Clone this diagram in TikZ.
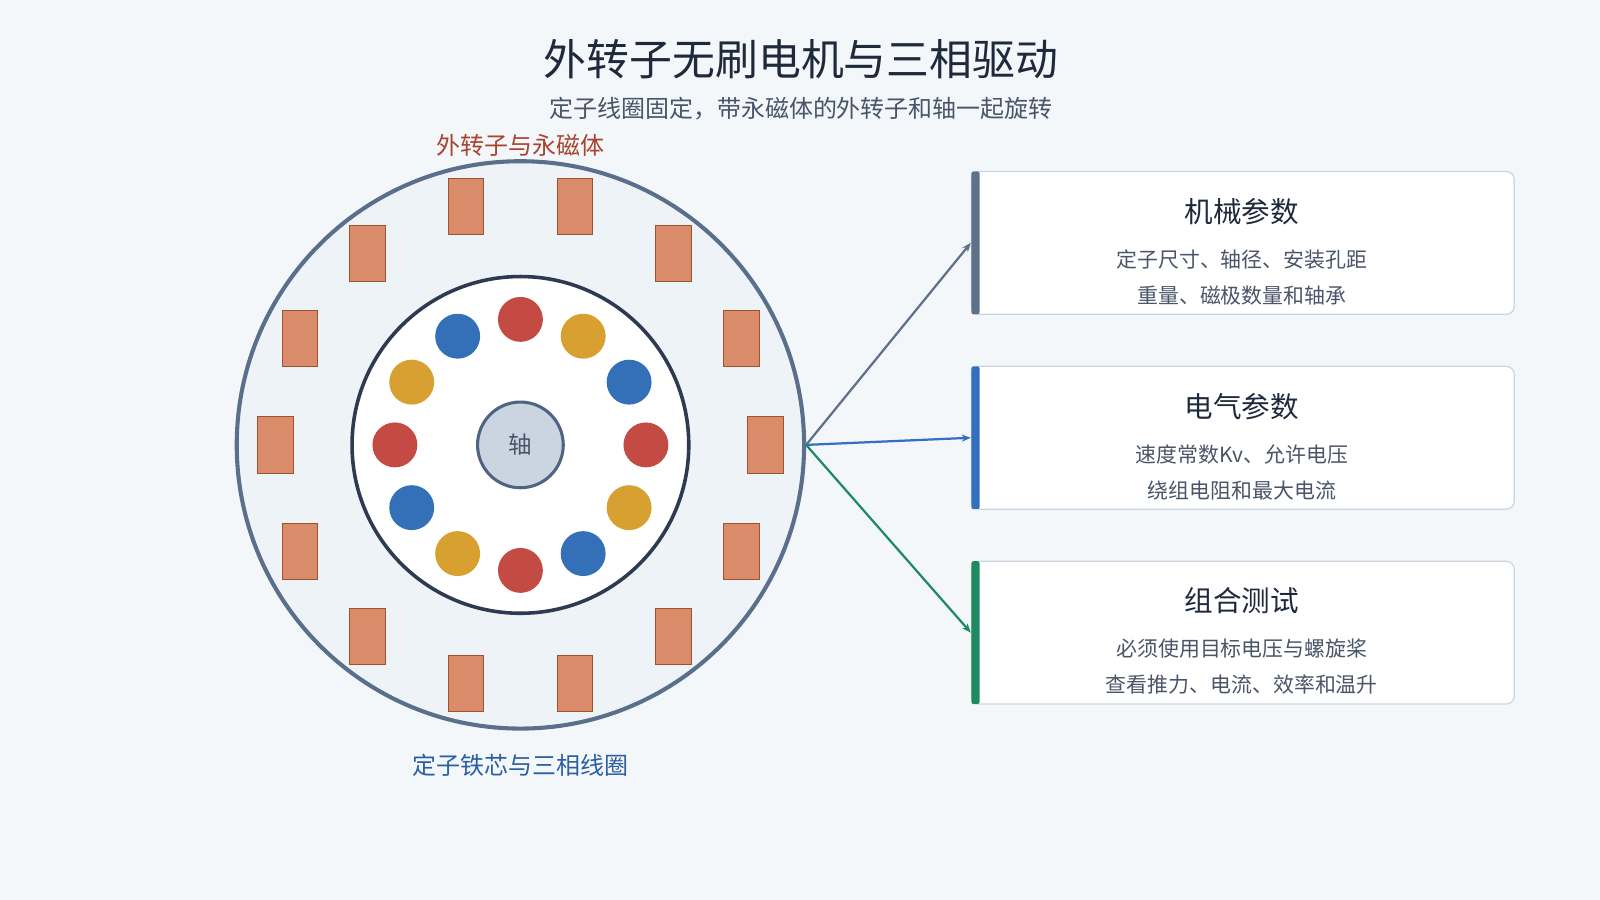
\documentclass[tikz,border=0pt]{standalone}
\usepackage{fontspec}
\setmainfont{Noto Sans CJK SC}
\usetikzlibrary{arrows.meta,calc}
\definecolor{bg}{HTML}{F4F7FA}
\definecolor{ttl}{HTML}{1E293B}
\definecolor{sub}{HTML}{475569}
\definecolor{rotl}{HTML}{A8432F}
\definecolor{statl}{HTML}{2A5FA0}
\definecolor{ringf}{HTML}{EEF3F8}
\definecolor{rings}{HTML}{5A6F8C}
\definecolor{magf}{HTML}{D98B6A}
\definecolor{mags}{HTML}{A0522D}
\definecolor{innr}{HTML}{2D3A4F}
\definecolor{cr}{HTML}{C44A44}
\definecolor{cy}{HTML}{D8A030}
\definecolor{cb}{HTML}{3370B8}
\definecolor{shf}{HTML}{CBD5E1}
\definecolor{shs}{HTML}{4F6482}
\definecolor{cards}{HTML}{CBD5E1}
\definecolor{bgray}{HTML}{5F7089}
\definecolor{bblue}{HTML}{3370C0}
\definecolor{bgreen}{HTML}{1F8A60}
\definecolor{txt}{HTML}{4A5568}
\tikzset{
  magnet/.style={draw=mags,line width=0.8pt,fill=magf,minimum width=35pt,minimum height=55pt,inner sep=0pt},
  coil/.style={circle,minimum size=44pt,inner sep=0pt},
  card/.style={draw=cards,line width=1.2pt,fill=white,rounded corners=8pt,minimum width=532pt,minimum height=140pt,inner sep=0pt},
  ctitle/.style={text=ttl,font=\fontsize{28}{32}\selectfont},
  cline/.style={text=txt,font=\fontsize{20.5}{24}\selectfont},
  link/.style={line width=2.2pt,-{Stealth[length=9pt,width=7pt]}},
}
\begin{document}
\begin{tikzpicture}[x=1pt,y=-1pt]
\useasboundingbox (0,0) rectangle (1568,882);
\fill[bg] (0,0) rectangle (1568,882);
\node[text=ttl,font=\fontsize{42}{48}\selectfont] (title) at (785,58) {外转子无刷电机与三相驱动};
\node[text=sub,font=\fontsize{23.5}{26}\selectfont] (subtitle) at (785,106) {定子线圈固定，带永磁体的外转子和轴一起旋转};
\node[text=rotl,font=\fontsize{23.5}{26}\selectfont] (rotlabel) at (510,142) {外转子与永磁体};
\node[text=statl,font=\fontsize{23.5}{26}\selectfont] (statlabel) at (510,750) {定子铁芯与三相线圈};
% outer rotor
\node[circle,draw=rings,line width=4pt,fill=ringf,minimum size=556pt,inner sep=0pt] (rotor) at (510,436) {};
\foreach \i in {0,...,13}{
  \pgfmathsetmacro\a{12.857+25.714*\i}
  \node[magnet] (m\i) at ($(510,436)+({240*sin(\a)},{-240*cos(\a)})$) {};
}
% stator
\node[circle,draw=innr,line width=3.5pt,fill=white,minimum size=330pt,inner sep=0pt] (stator) at (510,436) {};
\foreach \i/\c in {0/cr,1/cy,2/cb,3/cr,4/cy,5/cb,6/cr,7/cy,8/cb,9/cr,10/cy,11/cb}{
  \node[coil,fill=\c] (c\i) at ($(510,436)+({123*sin(30*\i)},{-123*cos(30*\i)})$) {};
}
\node[circle,draw=shs,line width=3pt,fill=shf,minimum size=84pt,inner sep=0pt,text=sub,font=\fontsize{23}{26}\selectfont] (shaft) at (510,436) {轴};
% cards
\foreach \n/\y/\col in {k1/238/bgray,k2/429/bblue,k3/620/bgreen}{
  \node[card] (\n) at (1218,\y) {};
  \fill[\col,rounded corners=2pt] (952,\y-70) rectangle (960,\y+70);
}
\node[ctitle] (t1) at (1217,207) {机械参数};
\node[cline] (l1a) at (1217,254) {定子尺寸、轴径、安装孔距};
\node[cline] (l1b) at (1217,290) {重量、磁极数量和轴承};
\node[ctitle] (t2) at (1217,398) {电气参数};
\node[cline] (l2a) at (1217,445) {速度常数Kv、允许电压};
\node[cline] (l2b) at (1217,481) {绕组电阻和最大电流};
\node[ctitle] (t3) at (1217,589) {组合测试};
\node[cline] (l3a) at (1217,636) {必须使用目标电压与螺旋桨};
\node[cline] (l3b) at (1217,671) {查看推力、电流、效率和温升};
\coordinate (hub) at (790,436);
\draw[link,bgray] (hub) -- (k1.west);
\draw[link,bblue] (hub) -- (k2.west);
\draw[link,bgreen] (hub) -- (k3.west);
\end{tikzpicture}
\end{document}
